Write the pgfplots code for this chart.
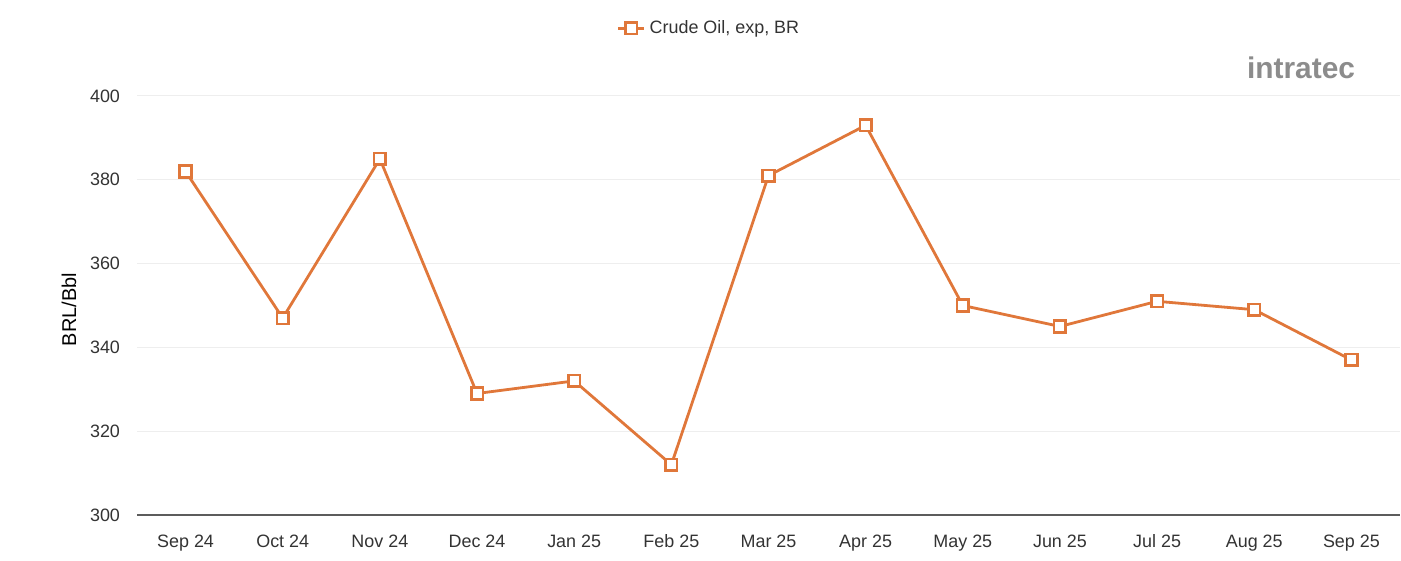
\documentclass[border=0pt]{standalone}
\usepackage{pgfplots}
\pgfplotsset{compat=1.18}
\usepackage{fontspec}
\setmainfont{Liberation Sans}
\definecolor{oil}{HTML}{E0773A}
\definecolor{txt}{HTML}{333333}
\definecolor{gridc}{HTML}{EEEEEE}
\definecolor{logog}{HTML}{8C8C8C}
\definecolor{logot}{HTML}{E6C3A0}
\begin{document}
\begin{tikzpicture}
\useasboundingbox (-68.5bp,-23bp) rectangle (632bp,257.5bp);
\begin{axis}[
    at={(0,0)}, anchor=south west,
    scale only axis,
    width=631.5bp,
    height=209.5bp,
    xmin=-0.5, xmax=12.5,
    ymin=300, ymax=400,
    xtick={0,1,...,12},
    xticklabels={Sep 24,Oct 24,Nov 24,Dec 24,Jan 25,Feb 25,Mar 25,Apr 25,May 25,Jun 25,Jul 25,Aug 25,Sep 25},
    ytick={300,320,...,400},
    axis x line*=bottom,
    axis y line*=left,
    x axis line style={draw=txt!80, line width=0.6bp, -},
    y axis line style={draw=none},
    major tick length=0pt,
    ymajorgrids=true,
    grid style={draw=gridc, line width=0.5bp},
    tick label style={font=\fontsize{9}{10}\selectfont, text=txt},
    xticklabel style={yshift=-5.5bp, text height=7bp, text depth=2bp},
    yticklabel style={xshift=-5bp},
    /pgf/number format/assume math mode=true,
    ylabel={BRL/Bbl},
    ylabel style={font=\fontsize{9}{10}\selectfont, text=txt},
    every axis y label/.style={at={(ticklabel cs:0.5)}, rotate=90, anchor=south, xshift=-2bp},
    clip=false,
    legend style={at={(0.4537,1.162)}, anchor=center, draw=none, fill=none,
        font=\fontsize{9}{10}\selectfont, text=txt},
    legend image code/.code={
        \draw[#1] (0bp,0bp) -- (13bp,0bp);
        \draw[#1, mark repeat=1] plot coordinates {(6.5bp,0bp)};
    },
]
\addplot[color=oil, line width=1.4bp, mark=square*, mark size=2.9bp,
    mark options={fill=white, line width=1.3bp, draw=oil}] coordinates {
    (0,382) (1,347) (2,385) (3,329) (4,332) (5,312) (6,381)
    (7,393) (8,350) (9,345) (10,351) (11,349) (12,337)
};
\addlegendentry{Crude Oil, exp, BR}
\end{axis}
\node[anchor=center, text=logog, font=\fontsize{15}{16}\selectfont\bfseries] at (582bp,223.5bp) {intratec};
\end{tikzpicture}
\end{document}
